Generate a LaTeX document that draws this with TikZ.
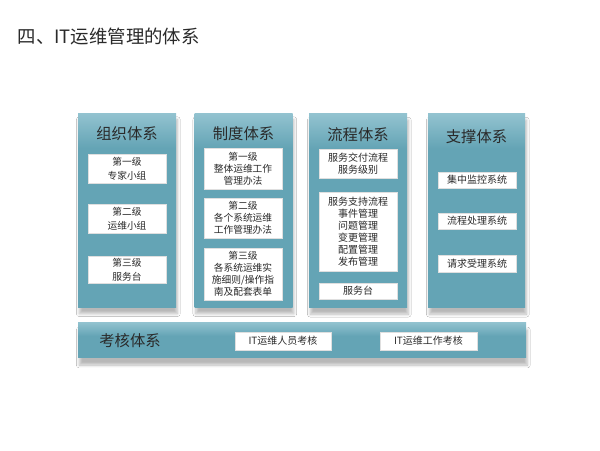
\documentclass[tikz,border=0pt]{standalone}
\usepackage{fontspec}
\setmainfont{Noto Sans CJK SC}
\usetikzlibrary{shadows.blur,shadows}
\definecolor{colTop}{HTML}{93C3D0}
\definecolor{colMid}{HTML}{64A4B5}
\definecolor{txt}{HTML}{2A2A2A}
\pgfdeclareverticalshading{colshade}{100bp}{color(0bp)=(colMid); color(25bp)=(colMid); color(66bp)=(colMid); color(75bp)=(colTop); color(100bp)=(colTop)}
\pgfdeclareverticalshading{barshade}{100bp}{color(0bp)=(colMid); color(25bp)=(colMid); color(55bp)=(colMid); color(75bp)=(colTop); color(100bp)=(colTop)}
\tikzset{
  column/.style={rectangle, inner sep=0pt, minimum width=73.5pt,
    shading=colshade,
    blur shadow={shadow xshift=1pt, shadow yshift=-5pt, shadow blur steps=8, shadow opacity=28}},
  bar/.style={rectangle, inner sep=0pt, minimum width=336pt, minimum height=26.25pt,
    shading=barshade,
    blur shadow={shadow xshift=1pt, shadow yshift=-6pt, shadow blur steps=8, shadow opacity=28}},
  ctitle/.style={font=\fontsize{11.5}{13}\selectfont, text=txt},
  wbox/.style={rectangle, fill=white, draw=gray!25, line width=0.3pt, inner sep=0pt,
    minimum width=58.5pt, align=center, text=txt,
    drop shadow={shadow xshift=1.1pt, shadow yshift=-1.1pt, fill=gray!65, opacity=1}},
}
\begin{document}
\begin{tikzpicture}[x=0.75pt,y=-0.75pt]
\useasboundingbox[fill=white] (0,0) rectangle (600,450);
\node[anchor=west, font=\fontsize{13.8}{15}\selectfont, text=txt] (title) at (13,37) {四、IT运维管理的体系};

% columns
\node[column, minimum height=145.5pt] (c1) at (127,210) {};
\node[column, minimum height=145.5pt] (c2) at (243.5,210) {};
\node[column, minimum height=145.5pt] (c3) at (358,210.5) {};
\node[column, minimum height=145.5pt, minimum width=72.75pt] (c4) at (476.5,210.5) {};
\node[bar] (bb) at (302,339.5) {};

% column titles
\node[ctitle] (t1) at (127,134) {组织体系};
\node[ctitle] (t2) at (243.5,134) {制度体系};
\node[ctitle] (t3) at (358,135) {流程体系};
\node[ctitle] (t4) at (476.5,137) {支撑体系};
\node[ctitle] (t5) at (130,341) {考核体系};

% column 1
\begin{scope}[every node/.append style={font=\fontsize{7.3}{10.5}\selectfont}]
\node[wbox, minimum height=21.75pt] (a1) at (127,168.5) {第一级\\专家小组};
\node[wbox, minimum height=21.75pt] (a2) at (127,218.5) {第二级\\运维小组};
\node[wbox, minimum height=20.25pt] (a3) at (127,269.5) {第三级\\服务台};
\end{scope}

% column 2
\begin{scope}[every node/.append style={font=\fontsize{7.3}{8.9}\selectfont}]
\node[wbox, minimum height=30.75pt] (b1) at (243,168.5) {第一级\\整体运维工作\\管理办法};
\node[wbox, minimum height=30pt] (b2) at (243,218) {第二级\\各个系统运维\\工作管理办法};
\node[wbox, minimum height=39pt] (b3) at (243,274) {第三级\\各系统运维实\\施细则/操作指\\南及配套表单};
\end{scope}

% column 3
\begin{scope}[every node/.append style={font=\fontsize{7.5}{9}\selectfont}]
\node[wbox, minimum height=21.75pt] (d1) at (358,163.5) {服务交付流程\\服务级别};
\node[wbox, minimum height=59.25pt] (d2) at (358,231.5) {服务支持流程\\事件管理\\问题管理\\变更管理\\配置管理\\发布管理};
\node[wbox, minimum height=12pt] (d3) at (358,291) {服务台};
\end{scope}

% column 4
\begin{scope}[every node/.append style={font=\fontsize{7.5}{9}\selectfont}]
\node[wbox, minimum height=12pt] (e1) at (477,180) {集中监控系统};
\node[wbox, minimum height=12pt] (e2) at (477,221) {流程处理系统};
\node[wbox, minimum height=12.75pt] (e3) at (477,263.5) {请求受理系统};
\end{scope}

% bottom bar
\begin{scope}[every node/.append style={font=\fontsize{7.5}{9}\selectfont}]
\node[wbox, minimum width=72pt, minimum height=13.5pt] (f1) at (283,341) {IT运维人员考核};
\node[wbox, minimum width=72.75pt, minimum height=13.5pt] (f2) at (428.5,341) {IT运维工作考核};
\end{scope}
\end{tikzpicture}
\end{document}
